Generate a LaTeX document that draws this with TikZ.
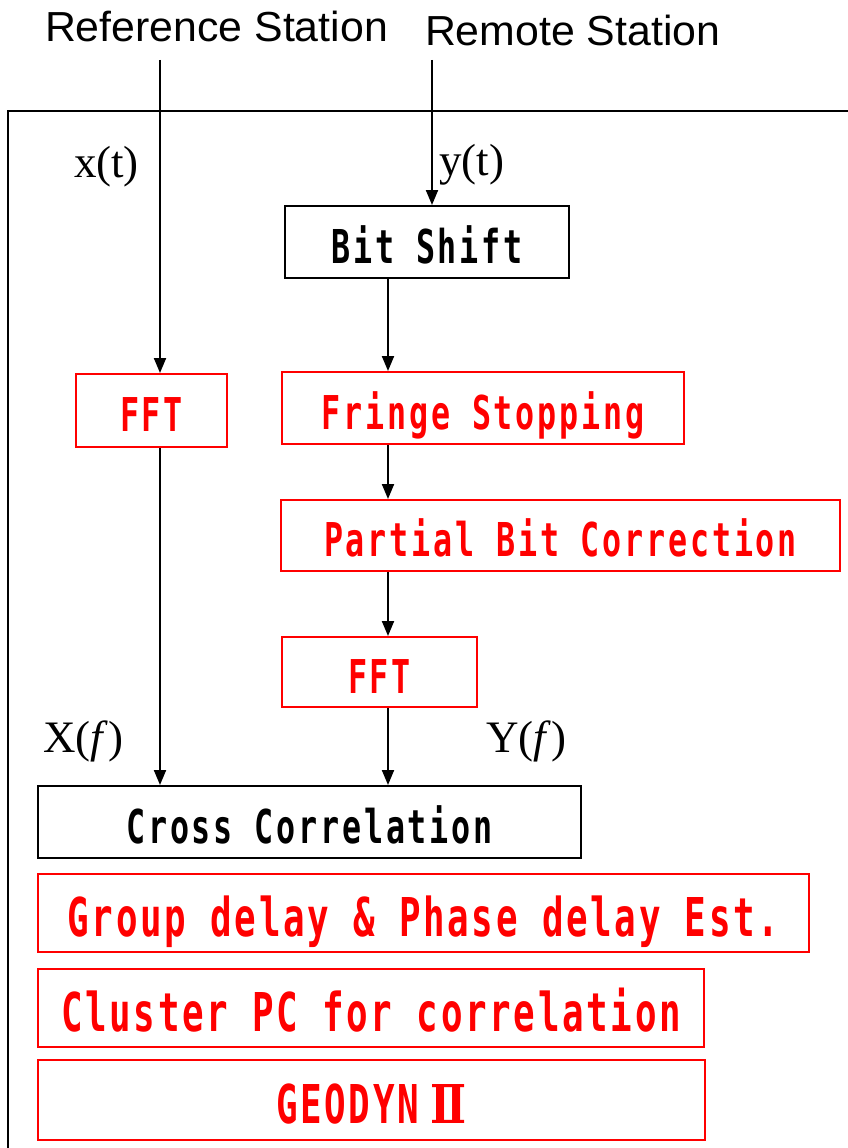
\documentclass[tikz,border=0pt]{standalone}
\usepackage{fontspec}
\usetikzlibrary{arrows.meta}
\setmainfont{Liberation Serif}
\newfontfamily\headfont[FakeStretch=1.02]{Liberation Sans}
\newfontfamily\gothic[FakeStretch=0.68, LetterSpace=6]{DejaVu Sans Mono Bold}
\newfontfamily\gothicbig[FakeStretch=0.67, LetterSpace=5]{DejaVu Sans Mono Bold}
\newfontfamily\numeralfont[FakeStretch=0.8]{DejaVu Serif Bold}
\definecolor{boxred}{RGB}{255,0,0}
\begin{document}
\begin{tikzpicture}[x=1pt,y=-1pt,
  line width=2pt,
  arr/.style={-{Triangle[width=12pt,length=15pt]}},
  stage/.style={draw, rectangle, inner sep=0pt, align=center,
    font={\gothic\fontsize{46.6}{50}\selectfont},
    text height=42pt, text depth=0pt},
  bigstage/.style={stage,
    font={\gothicbig\fontsize{53.5}{56}\selectfont},
    text height=46pt, text depth=0pt},
  redstage/.style={boxred, text=boxred},
  head/.style={font={\headfont\fontsize{42}{45}\selectfont}, inner sep=0pt, anchor=base west},
  sig/.style={font={\fontsize{45}{48}\selectfont}, inner sep=0pt, anchor=base west}]
\useasboundingbox (0,0) rectangle (848,1148);

% outer frame, open to the right and bottom
\draw (848,111) -| (8,1148);

% station titles
\node[head] (refname) at (44,42) {Reference Station};
\node[head] (remname) at (424,46) {Remote Station};

% processing stages
\node[stage, minimum width=284pt, minimum height=72pt] (bitshift) at (427,242) {Bit Shift};
\node[stage, redstage, minimum width=151pt, minimum height=73pt] (fftx) at (151.5,410.5) {FFT};
\node[stage, redstage, minimum width=402pt, minimum height=72pt] (fringe) at (483,408) {Fringe Stopping};
\node[stage, redstage, minimum width=559pt, minimum height=71pt] (partial) at (560.5,535.5) {Partial Bit Correction};
\node[stage, redstage, minimum width=195pt, minimum height=70pt] (ffty) at (379.5,672) {FFT};
\node[stage, minimum width=543pt, minimum height=72pt] (cross) at (309.5,822) {Cross Correlation};
\node[bigstage, redstage, minimum width=771pt, minimum height=78pt] (delay) at (423.5,913) {Group delay \& Phase delay Est.};
\node[bigstage, redstage, minimum width=666pt, minimum height=78pt] (cluster) at (371,1008) {Cluster PC for correlation};
\node[bigstage, redstage, minimum width=667pt, minimum height=80pt] (geodyn) at (371.5,1100) {GEODYN\hspace{12pt}{\numeralfont Ⅱ}};

% signal labels
\node[sig] (xt) at (73,177) {x(t)};
\node[sig] (yt) at (438,175) {y(t)};
\node[sig] (xf) at (42,752) {X(\textit{f})};
\node[sig] (yf) at (485,752) {Y(\textit{f})};

% signal paths
\coordinate (reftop) at (160,60);
\coordinate (remtop) at (432,60);
\coordinate (ycol) at (388,0);
\draw[arr] (reftop) -- (reftop |- fftx.north);
\draw[arr] (remtop) -- (remtop |- bitshift.north);
\draw[arr] (ycol |- bitshift.south) -- (ycol |- fringe.north);
\draw[arr] (ycol |- fringe.south) -- (ycol |- partial.north);
\draw[arr] (ycol |- partial.south) -- (ycol |- ffty.north);
\draw[arr] (reftop |- fftx.south) -- (reftop |- cross.north);
\draw[arr] (ycol |- ffty.south) -- (ycol |- cross.north);
\end{tikzpicture}
\end{document}
